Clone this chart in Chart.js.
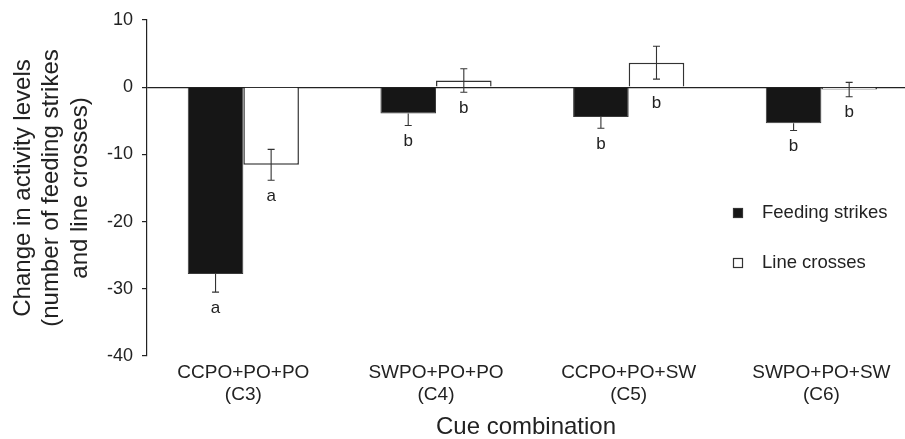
<!DOCTYPE html>
<html>
<head>
<meta charset="utf-8">
<script src="https://cdn.jsdelivr.net/npm/chart.js@4.4.1/dist/chart.umd.min.js"></script>
<style>
  html, body { margin: 0; padding: 0; background: #fff; }
  #wrap { width: 905px; height: 439px; position: relative; }
</style>
</head>
<body>
<div id="wrap"><canvas id="cueChart"></canvas></div>
<script>
// values
const categories = [
    ['CCPO+PO+PO', '(C3)'],
    ['SWPO+PO+PO', '(C4)'],
    ['CCPO+PO+SW', '(C5)'],
    ['SWPO+PO+SW', '(C6)']
];
const feedingStrikes = [-27.8, -3.9, -4.45, -5.35];
const feedingStrikesSE = [2.7, 1.8, 1.65, 1.1];
const feedingLetters = ['a', 'b', 'b', 'b'];
const lineCrosses = [-11.55, 1.0, 3.65, -0.35];
const lineCrossesSE = [2.3, 1.75, 2.45, 1.07];
const lineLetters = ['a', 'b', 'b', 'b'];
const yTicks = [10, 0, -10, -20, -30, -40];

const FONT = "'Liberation Sans', Arial, Helvetica, sans-serif";
const TEXT = '#222';

function toPoints(values) {
    return values.map((v, i) => ({ x: i, y: v }));
}

// error bars + significance letters
const errorBarPlugin = {
    id: 'errorBars',
    afterDatasetsDraw(chart) {
        const { ctx } = chart;
        const yScale = chart.scales.y;
        chart.data.datasets.forEach((ds, d) => {
            const meta = chart.getDatasetMeta(d);
            meta.data.forEach((bar, i) => {
                const v = ds.data[i].y;
                const se = ds.errors[i];
                const x = bar.x;
                const cap = 3.5;
                ctx.save();
                ctx.strokeStyle = '#333';
                ctx.lineWidth = 1.1;
                ctx.beginPath();
                let lo = v - se, hi = v + se;
                if (!ds.innerWhisker) {
                    if (v < 0) hi = v; else lo = v;
                }
                const pLo = yScale.getPixelForValue(lo);
                const pHi = yScale.getPixelForValue(hi);
                ctx.moveTo(x, pLo);
                ctx.lineTo(x, pHi);
                if (ds.innerWhisker || v < 0) {
                    ctx.moveTo(x - cap, pLo);
                    ctx.lineTo(x + cap, pLo);
                }
                if (ds.innerWhisker || v >= 0) {
                    ctx.moveTo(x - cap, pHi);
                    ctx.lineTo(x + cap, pHi);
                }
                ctx.stroke();

                const low = Math.min(0, v - se);
                ctx.fillStyle = TEXT;
                ctx.font = '17px ' + FONT;
                ctx.textAlign = 'center';
                ctx.textBaseline = 'alphabetic';
                ctx.fillText(ds.letters[i], x, yScale.getPixelForValue(low) + 20.5);
                ctx.restore();
            });
        });
    }
};

// legend drawn at the right like the original
const sideLegend = {
    id: 'sideLegend',
    afterDraw(chart, args, opts) {
        const { ctx } = chart;
        chart.data.datasets.forEach((ds, d) => {
            const y = opts.top + d * opts.gap;
            ctx.save();
            ctx.fillStyle = ds.backgroundColor;
            ctx.strokeStyle = '#333';
            ctx.lineWidth = 1.2;
            ctx.fillRect(opts.left, y - 5, 10, 10);
            ctx.strokeRect(opts.left + 0.5, y - 4.5, 9, 9);
            ctx.fillStyle = TEXT;
            ctx.font = '18.5px ' + FONT;
            ctx.textAlign = 'left';
            ctx.textBaseline = 'middle';
            ctx.fillText(ds.label, opts.left + 29, y);
            ctx.restore();
        });
    }
};

new Chart(document.getElementById('cueChart'), {
    type: 'bar',
    data: {
        datasets: [
            {
                label: 'Feeding strikes',
                data: toPoints(feedingStrikes),
                errors: feedingStrikesSE,
                letters: feedingLetters,
                innerWhisker: false,
                backgroundColor: '#161616',
                borderColor: '#3a3a3a',
                borderWidth: 1
            },
            {
                label: 'Line crosses',
                data: toPoints(lineCrosses),
                errors: lineCrossesSE,
                letters: lineLetters,
                innerWhisker: true,
                backgroundColor: '#ffffff',
                borderColor: '#333',
                borderWidth: 1.5
            }
        ]
    },
    options: {
        responsive: true,
        maintainAspectRatio: false,
        animation: false,
        categoryPercentage: 0.577,
        barPercentage: 1,
        layout: { padding: { top: 20, right: 0, left: 0, bottom: 0 } },
        plugins: {
            legend: { display: false },
            tooltip: { enabled: false },
            sideLegend: { left: 733, top: 213, gap: 50 }
        },
        scales: {
            x: {
                type: 'linear',
                offset: false,
                min: -0.5,
                max: 3.434,
                afterBuildTicks: (scale) => {
                    scale.ticks = categories.map((c, i) => ({ value: i }));
                },
                afterFit: (scale) => { scale.height = 83; },
                grid: { display: false, drawTicks: false, offset: false },
                border: { display: false },
                ticks: {
                    autoSkip: false,
                    maxRotation: 0,
                    padding: 5,
                    color: TEXT,
                    font: { family: FONT, size: 19, lineHeight: 1.2 },
                    callback: (value) => categories[value]
                },
                title: {
                    display: true,
                    text: 'Cue combination',
                    color: TEXT,
                    padding: { top: 0, bottom: 0 },
                    font: { family: FONT, size: 24, lineHeight: 1 }
                }
            },
            y: {
                min: -40,
                max: 10,
                afterBuildTicks: (scale) => {
                    scale.ticks = yTicks.map((v) => ({ value: v }));
                },
                afterFit: (scale) => { scale.width = 147; },
                border: { display: true, color: '#222', width: 1.2 },
                grid: {
                    drawOnChartArea: true,
                    drawTicks: true,
                    tickLength: 5,
                    tickColor: '#222',
                    lineWidth: 1.2,
                    color: (ctx) => (ctx.tick && ctx.tick.value === 0 ? '#222' : 'rgba(0,0,0,0)')
                },
                ticks: {
                    padding: 9,
                    color: TEXT,
                    font: { family: FONT, size: 18 }
                },
                title: {
                    display: true,
                    text: ['Change in activity levels', '(number of feeding strikes', 'and line crosses)'],
                    color: TEXT,
                    padding: { top: 8.5, bottom: 0 },
                    font: { family: FONT, size: 24, lineHeight: 1.2 }
                }
            }
        }
    },
    plugins: [errorBarPlugin, sideLegend]
});
</script>
</body>
</html>
